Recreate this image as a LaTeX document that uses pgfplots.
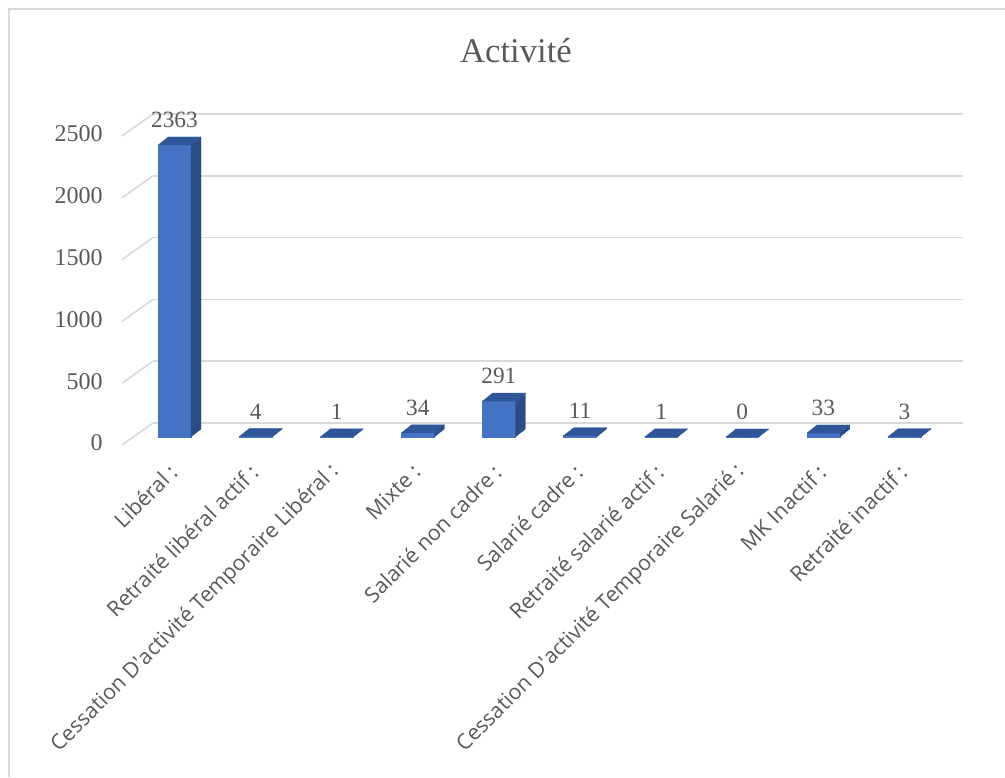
\documentclass[border=0pt]{standalone}
\usepackage{pgfplots}
\pgfplotsset{compat=1.18}
\usepackage{pgfplotstable}
\usepackage{fontspec}
\setmainfont{Liberation Serif}
\newfontfamily\catfont{Open Sans}

\definecolor{barfront}{HTML}{4472C4}
\definecolor{barside}{HTML}{2B4C86}
\definecolor{bartop}{HTML}{30569A}
\definecolor{gridc}{HTML}{D9D9D9}
\definecolor{txt}{HTML}{595959}

% activity counts, one row per category
\pgfplotstableread{
x v
0 2363
1 4
2 1
3 34
4 291
5 11
6 1
7 0
8 33
9 3
}\activ

\begin{document}
\begin{tikzpicture}
\begin{axis}[
  at={(0,0)}, anchor=south west,
  scale only axis, width=607.5pt, height=231.75pt,
  xmin=-0.481, xmax=9.507, ymin=0, ymax=2500,
  clip=false,
  axis line style={draw=none},
  major tick length=0pt,
  ytick={0,500,...,2500},
  ymajorgrids, grid style={gridc, line width=1.2pt},
  xtick={0,...,9},
  xticklabels={Libéral :, Retraité libéral actif :, Cessation D\textquotesingle activité Temporaire Libéral :, Mixte :, Salarié non cadre :, Salarié cadre :, Retraité salarié actif :, Cessation D\textquotesingle activité Temporaire Salarié :, MK Inactif :, Retraité inactif :},
  xticklabel style={font=\catfont\fontsize{16}{19}\selectfont, text=txt,
    xshift=-14pt, yshift=-34pt, rotate=45, anchor=east, inner sep=0pt},
  yticklabel style={font=\fontsize{18}{21}\selectfont, text=txt,
    anchor=east, inner sep=0pt, xshift=-37.5pt, yshift=-15pt},
  /pgf/number format/1000 sep={},
  /pgf/number format/assume math mode=true,
]
% slanted floor lines of the 3d wall
\pgfplotsinvokeforeach{0,500,...,2500}{
  \pgfmathsetmacro\ylo{#1-178}
  \addplot[gridc, line width=1.2pt, mark=none] coordinates {(-0.863,\ylo) (-0.481,#1)};
}
% 3d bars: front, side, top
\pgfplotsinvokeforeach{0,...,9}{
  \pgfplotstablegetelem{#1}{v}\of\activ
  \pgfmathsetmacro\yf{\pgfplotsretval-113}
  \pgfmathsetmacro\yb{\pgfplotsretval-48.3}
  \pgfmathsetmacro\xa{#1-0.4195}
  \pgfmathsetmacro\xb{#1-0.0125}
  \pgfmathsetmacro\xc{#1-0.296}
  \pgfmathsetmacro\xd{#1+0.111}
  \addplot[draw=barfront, fill=barfront, line width=0.2pt, mark=none]
    coordinates {(\xa,-113) (\xb,-113) (\xb,\yf) (\xa,\yf)};
  \addplot[draw=barside, fill=barside, line width=0.2pt, mark=none]
    coordinates {(\xb,-113) (\xd,-48.3) (\xd,\yb) (\xb,\yf)};
  \addplot[draw=bartop, fill=bartop, line width=0.2pt, mark=none]
    coordinates {(\xa,\yf) (\xb,\yf) (\xd,\yb) (\xc,\yb)};
}
% value labels
\addplot[draw=none, mark=none, nodes near coords, point meta=explicit,
  nodes near coords style={font=\fontsize{17.5}{20}\selectfont, text=txt, anchor=center, yshift=18.75pt}]
  table[x expr=\thisrow{x}-0.216, y expr=\thisrow{v}-113, meta=v]{\activ};
\end{axis}
\node[font=\fontsize{26}{30}\selectfont, text=txt, anchor=base] at (272.25pt,270pt) {Activité};
\draw[gridc, line width=1.5pt] (-108pt,-265.5pt) -- (-108pt,310.5pt) -- (639pt,310.5pt);
\pgfresetboundingbox
\path (-114.75pt,-265.5pt) rectangle (639pt,317.25pt);
\end{tikzpicture}
\end{document}
